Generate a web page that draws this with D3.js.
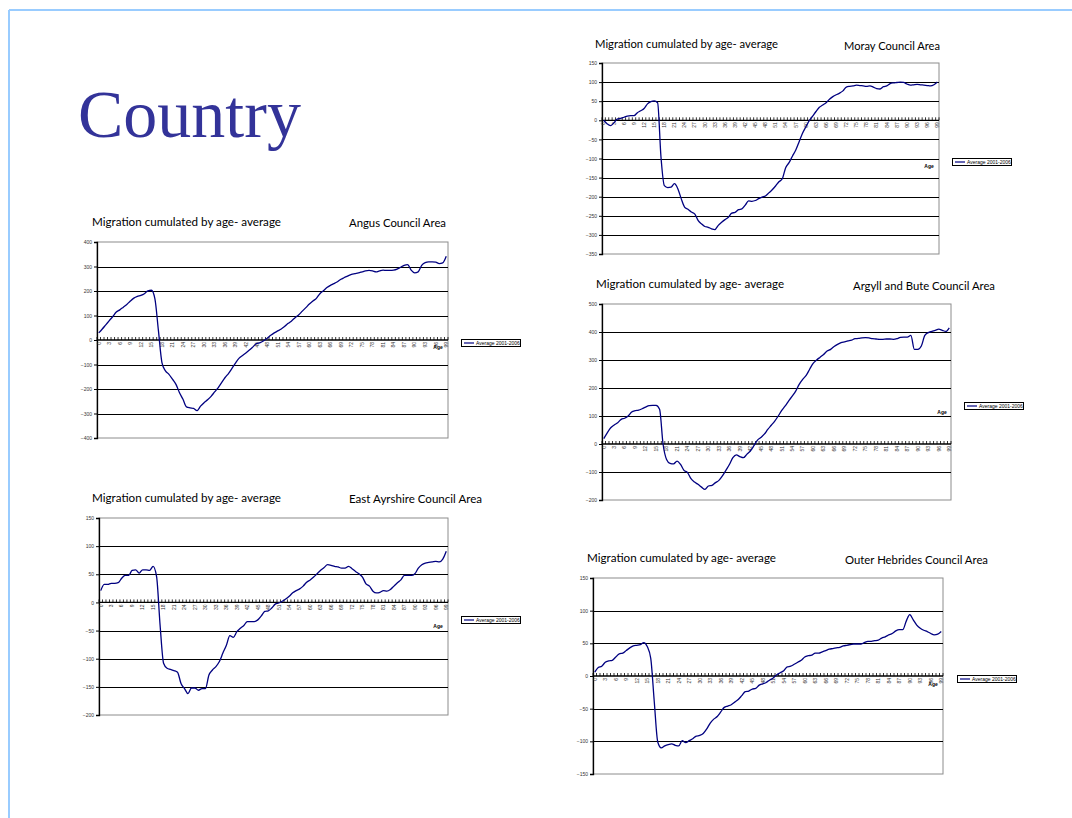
<!DOCTYPE html>
<html>
<head>
<meta charset="utf-8">
<script src="https://cdn.jsdelivr.net/npm/d3@7"></script>
<style>
  body { margin: 0; background: #ffffff; }
  svg { display: block; }
</style>
</head>
<body>
<svg id="slide" width="1072" height="818"></svg>
<script>
// Age categories (single years) and the ages that carry a label on the x axis
const ages = d3.range(0, 100);
const ageLabels = ages.filter(a => a % 3 === 0);

// Cumulated average net migration by age, 2001-2006
const angusValues = [
  29, 45, 62, 79, 96, 114, 123, 134, 145, 159,
  171, 178, 182, 189, 201, 203, 168, 38, -92, -126,
  -140, -160, -181, -215, -242, -273, -277, -279, -288, -270,
  -256, -244, -230, -212, -195, -174, -153, -136, -115, -93,
  -74, -63, -52, -40, -27, -14, -11, -3, 7, 19,
  29, 37, 45, 56, 68, 79, 92, 103, 118, 132,
  147, 159, 170, 189, 201, 214, 223, 230, 238, 248,
  255, 262, 268, 271, 274, 278, 282, 284, 282, 278,
  282, 285, 284, 284, 285, 289, 297, 305, 308, 285,
  274, 278, 305, 316, 319, 319, 318, 312, 315, 342
];
const morayValues = [
  0, -9, -14, -7, 3, 5, 8, 11, 12, 12,
  20, 25, 31, 43, 49, 51, 46, -96, -171, -176,
  -175, -166, -179, -205, -227, -233, -240, -245, -262, -271,
  -278, -280, -284, -286, -275, -267, -260, -254, -243, -241,
  -234, -232, -222, -211, -212, -210, -205, -201, -198, -190,
  -182, -172, -161, -153, -124, -111, -94, -78, -56, -34,
  -17, -1, 11, 23, 34, 40, 46, 55, 62, 67,
  71, 77, 87, 89, 90, 92, 91, 90, 89, 90,
  87, 83, 82, 88, 90, 96, 98, 99, 100, 99,
  95, 92, 93, 94, 93, 92, 91, 90, 93, 100
];
const argyllValues = [
  19, 40, 58, 68, 76, 88, 92, 100, 114, 119,
  121, 126, 132, 137, 138, 138, 124, -1, -55, -69,
  -71, -61, -73, -94, -102, -124, -136, -144, -154, -162,
  -150, -148, -138, -130, -114, -94, -73, -49, -39, -45,
  -49, -37, -25, -7, 13, 23, 35, 52, 67, 82,
  100, 120, 136, 154, 171, 189, 213, 231, 245, 267,
  288, 300, 310, 320, 332, 338, 348, 356, 362, 365,
  368, 371, 376, 377, 379, 380, 379, 376, 375, 374,
  374, 375, 375, 374, 376, 381, 382, 382, 388, 338,
  338, 350, 388, 398, 402, 406, 410, 406, 402, 415
];
const eastAyrshireValues = [
  21, 32, 32, 34, 34, 35, 43, 48, 48, 57,
  58, 52, 58, 58, 57, 64, 46, -40, -108, -117,
  -119, -121, -124, -144, -153, -162, -152, -152, -156, -153,
  -153, -129, -120, -114, -105, -90, -76, -59, -62, -52,
  -46, -41, -34, -34, -34, -31, -24, -16, -15, -10,
  -3, -1, 2, 6, 11, 17, 21, 24, 29, 36,
  40, 45, 51, 57, 62, 67, 66, 64, 63, 61,
  61, 64, 60, 55, 51, 45, 33, 29, 20, 17,
  18, 21, 20, 23, 29, 35, 40, 48, 48, 48,
  51, 61, 67, 70, 71, 72, 73, 72, 77, 91
];
const outerHebridesValues = [
  6, 13, 15, 21, 23, 24, 29, 34, 35, 39,
  43, 46, 47, 48, 51, 45, 27, -39, -101, -110,
  -107, -105, -104, -106, -107, -99, -102, -99, -96, -92,
  -91, -88, -81, -72, -66, -62, -55, -48, -46, -44,
  -40, -36, -30, -24, -23, -20, -19, -14, -12, -10,
  -6, -3, 2, 5, 8, 14, 15, 18, 21, 24,
  29, 31, 32, 35, 35, 37, 39, 41, 42, 43,
  44, 46, 47, 48, 49, 49, 49, 51, 53, 53,
  54, 55, 58, 60, 63, 65, 69, 71, 71, 84,
  94, 86, 78, 73, 70, 68, 65, 63, 64, 68
];

// Value-axis tick labels for each area
const angusTicks = [400, 300, 200, 100, 0, -100, -200, -300, -400];
const morayTicks = [150, 100, 50, 0, -50, -100, -150, -200, -250, -300, -350];
const argyllTicks = [500, 400, 300, 200, 100, 0, -100, -200];
const eastAyrshireTicks = [150, 100, 50, 0, -50, -100, -150, -200];
const outerHebridesTicks = [150, 100, 50, 0, -50, -100, -150];

const chartTitle = "Migration cumulated by age- average";
const seriesName = "Average 2001-2006";
const axisTitle = "Age";
const slideTitle = "Country";

const areas = [
  { name: "Angus Council Area", values: angusValues, ticks: angusTicks },
  { name: "Moray Council Area", values: morayValues, ticks: morayTicks },
  { name: "Argyll and Bute Council Area", values: argyllValues, ticks: argyllTicks },
  { name: "East Ayrshire Council Area", values: eastAyrshireValues, ticks: eastAyrshireTicks },
  { name: "Outer Hebrides Council Area", values: outerHebridesValues, ticks: outerHebridesTicks }
];

// Placement of each chart on the slide
const layouts = [
  { plot: { l: 97, r: 448, t: 242, b: 438 }, title: { x: 92, y: 226, w: 189 }, region: { xr: 446, y: 227, w: 97 },  legend: { x: 461, y: 339 }, age: { x: 438, y: 349 } },
  { plot: { l: 602, r: 939, t: 63, b: 254 }, title: { x: 595, y: 48, w: 183 }, region: { xr: 940, y: 50, w: 96 },   legend: { x: 952, y: 158 }, age: { x: 929, y: 168 } },
  { plot: { l: 602, r: 951, t: 304, b: 500 }, title: { x: 596, y: 288, w: 188 }, region: { xr: 995, y: 290, w: 142 }, legend: { x: 964, y: 402 }, age: { x: 942, y: 414 } },
  { plot: { l: 99, r: 448, t: 518, b: 715 }, title: { x: 92, y: 502, w: 189 }, region: { xr: 482, y: 503, w: 133 }, legend: { x: 461, y: 616 }, age: { x: 438, y: 628 } },
  { plot: { l: 593, r: 943, t: 578, b: 774 }, title: { x: 587, y: 562, w: 189 }, region: { xr: 988, y: 564, w: 143 }, legend: { x: 957, y: 675 }, age: { x: 933, y: 686 } }
];

const svg = d3.select("#slide");

// Slide frame
svg.append("line").attr("x1", 9).attr("x2", 1072).attr("y1", 10).attr("y2", 10)
  .attr("stroke", "#99ccff").attr("stroke-width", 2);
svg.append("line").attr("x1", 9).attr("x2", 9).attr("y1", 10).attr("y2", 818)
  .attr("stroke", "#99ccff").attr("stroke-width", 2);

// Slide heading
svg.append("text")
  .attr("x", 78).attr("y", 137)
  .attr("font-family", "'Liberation Serif', 'DejaVu Serif', serif")
  .attr("font-size", 68)
  .attr("fill", "#333399")
  .text(slideTitle);

const smallFont = "'Liberation Sans', Arial, sans-serif";
const titleFont = "Lato, 'Open Sans', sans-serif";

function drawChart(area, lay) {
  const g = svg.append("g").attr("class", "chart");
  const p = lay.plot;
  const lo = d3.min(area.ticks), hi = d3.max(area.ticks);

  const x = d3.scaleBand().domain(ages).range([p.l, p.r]);
  const y = d3.scaleLinear().domain([lo, hi]).range([p.b, p.t]);
  const y0 = y(0);

  // Titles
  g.append("text")
    .attr("x", lay.title.x).attr("y", lay.title.y)
    .attr("font-family", titleFont).attr("font-size", 12)
    .attr("textLength", lay.title.w).attr("lengthAdjust", "spacingAndGlyphs")
    .attr("fill", "#000").text(chartTitle);
  g.append("text")
    .attr("x", lay.region.xr - lay.region.w).attr("y", lay.region.y)
    .attr("font-family", titleFont).attr("font-size", 12)
    .attr("textLength", lay.region.w).attr("lengthAdjust", "spacingAndGlyphs")
    .attr("fill", "#000").text(area.name);

  // Plot area frame
  g.append("rect")
    .attr("x", p.l).attr("y", p.t)
    .attr("width", p.r - p.l).attr("height", p.b - p.t)
    .attr("fill", "#ffffff").attr("stroke", "#8c8c8c").attr("stroke-width", 1);

  // Horizontal gridlines
  g.append("g").selectAll("line")
    .data(area.ticks.filter(t => t !== lo && t !== hi && t !== 0))
    .join("line")
    .attr("x1", p.l).attr("x2", p.r)
    .attr("y1", d => Math.round(y(d)) + 0.5).attr("y2", d => Math.round(y(d)) + 0.5)
    .attr("stroke", "#000").attr("stroke-width", 1);

  // Value axis
  const yAxis = d3.axisLeft(y).tickValues(area.ticks).tickSize(3).tickPadding(2).tickFormat(d3.format("d"));
  const ya = g.append("g").attr("transform", `translate(${p.l},0)`).call(yAxis);
  ya.select(".domain").attr("stroke", "#000").attr("stroke-width", 1.3);
  ya.selectAll(".tick line").attr("stroke", "#000");
  ya.selectAll(".tick text")
    .attr("font-family", smallFont).attr("font-size", 5).attr("fill", "#333");

  // Category axis drawn through zero
  const xa = g.append("g");
  xa.append("line")
    .attr("x1", p.l).attr("x2", p.r)
    .attr("y1", y0).attr("y2", y0)
    .attr("stroke", "#000").attr("stroke-width", 1.3);
  const bounds = ages.map(a => x(a)).concat([p.r]);
  xa.selectAll("line.tk").data(bounds).join("line").attr("class", "tk")
    .attr("x1", d => d).attr("x2", d => d)
    .attr("y1", y0 - 3).attr("y2", y0)
    .attr("stroke", "#000").attr("stroke-width", 0.8);
  xa.selectAll("text").data(ageLabels).join("text")
    .attr("transform", d => `translate(${x(d) + x.bandwidth() / 2 + 1.8},${y0 + 2}) rotate(-90)`)
    .attr("text-anchor", "end")
    .attr("font-family", smallFont).attr("font-size", 5).attr("fill", "#333")
    .text(d => d);

  // Series line
  const line = d3.line()
    .x((d, i) => x(ages[i]) + x.bandwidth() / 2)
    .y(d => y(d))
    .curve(d3.curveMonotoneX);
  g.append("path")
    .datum(area.values)
    .attr("d", line)
    .attr("fill", "none")
    .attr("stroke", "#000080")
    .attr("stroke-width", 1.3);

  // Axis title
  g.append("text")
    .attr("x", lay.age.x).attr("y", lay.age.y)
    .attr("text-anchor", "middle")
    .attr("font-family", smallFont).attr("font-size", 5).attr("font-weight", "bold")
    .attr("fill", "#000").text(axisTitle);

  // Legend
  const lg = g.append("g").attr("transform", `translate(${lay.legend.x},${lay.legend.y})`);
  lg.append("rect").attr("x", 0.5).attr("y", 0.5).attr("width", 59).attr("height", 7)
    .attr("fill", "#fff").attr("stroke", "#000").attr("stroke-width", 1);
  lg.append("line").attr("x1", 3).attr("x2", 13).attr("y1", 4).attr("y2", 4)
    .attr("stroke", "#000080").attr("stroke-width", 1.2);
  lg.append("text").attr("x", 15).attr("y", 6)
    .attr("font-family", smallFont).attr("font-size", 5).attr("fill", "#000")
    .text(seriesName);
}

areas.forEach((a, i) => drawChart(a, layouts[i]));
</script>
</body>
</html>
